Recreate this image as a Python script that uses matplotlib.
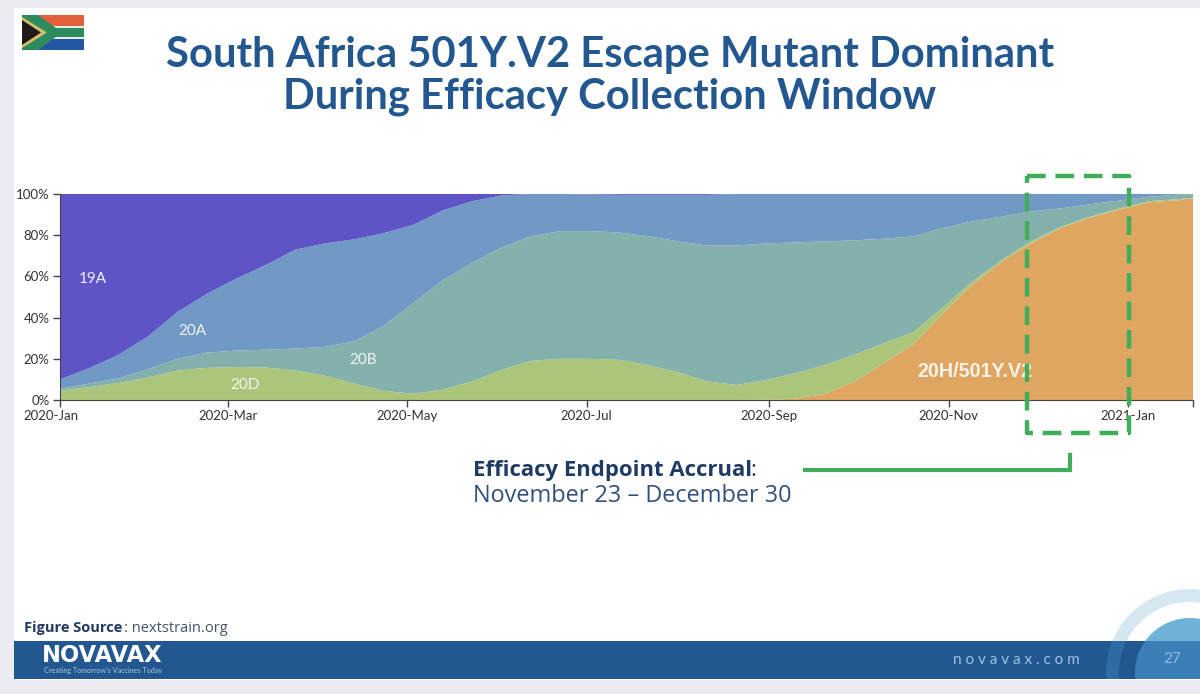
#!/bin/python3
import numpy as np
import matplotlib
matplotlib.use('agg')
import matplotlib.pyplot as plt
import matplotlib.dates as mdates
from matplotlib.patches import Rectangle, Circle, Polygon
from matplotlib.transforms import ScaledTranslation

# sampling dates, 10 days apart, last one is the end of the axis
dates = np.arange(np.datetime64('2020-01-04'), np.datetime64('2021-01-19'), 10).tolist()
dates.append(np.datetime64('2021-01-23'))

# clade shares in percent
share_20h = [0] * 24 + [0.1, 0.6, 3, 9, 18, 27, 42, 56, 67, 76, 83.5, 88.7, 92.4, 96, 97, 98]
share_20d = [4.5, 6.3, 8.3, 11, 14.3, 15.6, 16, 15.8, 14.3, 11.8, 8, 4.5, 3, 5, 9, 14.5, 19, 20, 20, 19.5,
             17, 13.5, 9, 7.3, 9.6, 12.4, 14, 13, 9.6, 6, 3, 1.5, 1, 1, 0.5, 0.3, 0.6, 0.5, 0.5, 0.2]
share_20b = [1, 1.7, 2.2, 4, 5.7, 7.4, 8, 8.6, 10.7, 14, 20.5, 31.5, 44, 53, 57.5, 59.5, 60.5, 62, 62, 61.8,
             62.5, 63.5, 66, 67.7, 66.3, 63.5, 60, 55.5, 50.7, 46.4, 38.5, 29.2, 21, 14.6, 9, 6, 3.8, 2.2, 2.2, 1.8]
share_20a = [4.5, 7.5, 11.5, 16, 22.8, 28.6, 35, 41.2, 48, 50.2, 49.5, 45, 38, 34, 30, 25.3, 20.5, 18, 17.8, 18.3,
             20.1, 22.6, 24.6, 25, 24, 23.5, 23, 22.5, 21.7, 20.6, 16.5, 13.3, 11, 8.4, 7, 5, 3.2, 1.3, 0.3, 0]
share_19a = [90, 84.5, 78, 69, 57.2, 48.4, 41, 34.4, 27, 24, 22, 19, 15, 8, 3.5, 0.7, 0, 0, 0.2, 0.4,
             0.4, 0.4, 0.4, 0, 0, 0, 0, 0, 0, 0, 0, 0, 0, 0, 0, 0, 0, 0, 0, 0]
colors = ['#DFA661', '#ABC67A', '#85B1AD', '#7099C6', '#5E54C5']

# the last tick closes the axis and has no label
tick_dates = ['2020-01-04', '2020-03-01', '2020-05-01', '2020-07-01', '2020-09-01', '2020-11-01', '2021-01-01',
              '2021-01-23']
tick_labels = ['2020-Jan', '2020-Mar', '2020-May', '2020-Jul', '2020-Sep', '2020-Nov', '2021-Jan', '']
pct_ticks = [0, 20, 40, 60, 80, 100]

# clade name, date, percent
clade_labels = [('19A', '2020-01-15', 58.5), ('20A', '2020-02-18', 33.5), ('20B', '2020-04-16', 19.5),
                ('20D', '2020-03-07', 7.5)]

W, H = 1200, 694
NAVY = '#23578F'
GREEN = '#41AD5B'
plt.rcParams['font.family'] = ['Lato', 'DejaVu Sans']
SLIDE_FONT = ['Open Sans', 'DejaVu Sans']

fig = plt.figure(figsize=(W / 100, H / 100), dpi=100, facecolor='#EBEBF1')

# whole-slide layer in pixel coordinates
bg = fig.add_axes([0, 0, 1, 1], zorder=0)
bg.set_xlim(0, W)
bg.set_ylim(H, 0)
bg.axis('off')
bg.add_patch(Rectangle((14, 8), W - 14, 672, fc='white', ec='none'))

# ring in the corner, clipped to the slide and to the band
slide_part = Rectangle((14, 8), W - 14, 633, transform=bg.transData)
band_part = Rectangle((14, 641), W - 14, 38, transform=bg.transData)
bg.add_patch(Rectangle((14, 641), W - 14, 38, fc=NAVY, ec='none', zorder=1))
for radius, upper, lower in [(84, '#D5E8F2', '#2E6AA3'), (71, 'white', NAVY), (55, '#6FB4D8', '#3A7FB8')]:
    c1 = Circle((1190, 673), radius, fc=upper, ec='none', zorder=2)
    bg.add_patch(c1)
    c1.set_clip_path(slide_part)
    c2 = Circle((1190, 673), radius, fc=lower, ec='none', zorder=2)
    bg.add_patch(c2)
    c2.set_clip_path(band_part)

# flag
bg.add_patch(Rectangle((22, 15), 62, 12, fc='#E2603A', ec='none', zorder=2))
bg.add_patch(Rectangle((22, 38), 62, 12, fc='#2456A4', ec='none', zorder=2))
bg.add_patch(Rectangle((22, 26), 62, 13, fc='#E8EFE8', ec='none', zorder=2))
bg.add_patch(Polygon([(22, 15), (38, 15), (56, 28), (84, 28), (84, 37), (56, 37), (38, 50), (22, 50)],
                     fc='#2E8B5E', ec='none', zorder=3))
bg.add_patch(Polygon([(22, 17), (47, 32.5), (22, 48)], fc='#D8BE6A', ec='none', zorder=4))
bg.add_patch(Polygon([(22, 20), (41, 32.5), (22, 45)], fc='#1E1A1C', ec='none', zorder=5))

# slide texts
for line, y in [('South Africa 501Y.V2 Escape Mutant Dominant', 55), ('During Efficacy Collection Window', 97)]:
    bg.text(610, y, line, color=NAVY, fontsize=30.1, fontweight='bold', ha='center', va='center')
bg.text(473, 470, 'Efficacy Endpoint Accrual', color='#1F3A63', fontsize=15.9, fontweight='bold', va='center',
        family=SLIDE_FONT)
bg.text(750, 470, ':', color='#1F3A63', fontsize=15.9, va='center', family=SLIDE_FONT)
bg.text(473, 496, 'November 23 \u2013 December 30', color='#33507A', fontsize=16.9, va='center', family=SLIDE_FONT)
bg.text(24, 628, 'Figure Source', color='#1F3A63', fontsize=10.5, fontweight='bold', va='center', family=SLIDE_FONT)
bg.text(124, 628, ': nextstrain.org', color='#44546A', fontsize=10.5, va='center', family=SLIDE_FONT)
bg.text(42, 655, 'NOVAVAX', color='white', fontsize=16.3, fontweight='bold', va='center', zorder=3,
        family=['DejaVu Sans'])
bg.text(44, 671, "Creating Tomorrow's Vaccines Today", color='#A9C6E3', fontsize=5.2, va='center', zorder=3)
bg.text(953, 660, 'n o v a v a x . c o m', color='#9CC3E6', fontsize=11, va='center', zorder=3)
bg.text(1172, 659, '27', color='#8CBDE3', fontsize=11, ha='center', va='center', zorder=3)

# the chart
ax = fig.add_axes([60 / W, 1 - 400 / H, (1193 - 60) / W, (400 - 194) / H], zorder=1)
ax.patch.set_alpha(0)
ax.stackplot(dates, share_20h, share_20d, share_20b, share_20a, share_19a, colors=colors, linewidth=0)
ax.set_xlim(np.datetime64('2020-01-04'), np.datetime64('2021-01-23'))
ax.set_ylim(0, 100)
ax.set_yticks(pct_ticks)
ax.set_yticklabels(['{}%'.format(p) for p in pct_ticks], fontsize=9.5, color='#333333')
ax.set_xticks([mdates.date2num(np.datetime64(d)) for d in tick_dates])
ax.set_xticklabels(tick_labels, fontsize=9.5, color='#333333')
ax.tick_params(axis='both', length=5, width=1, color='#444444', pad=2.5)
for side in ['top', 'right']:
    ax.spines[side].set_visible(False)
for side in ['left', 'bottom']:
    ax.spines[side].set_color('#444444')

# first date label sits left of its tick
first = ax.get_xticklabels()[0]
first.set_transform(first.get_transform() + ScaledTranslation(-9 / 100, 0, fig.dpi_scale_trans))

for name, day, pct in clade_labels:
    ax.text(np.datetime64(day), pct, name, color='#F2F4F4', fontsize=11, ha='center', va='center')
ax.text(np.datetime64('2020-11-10'), 14, '20H/501Y.V2', color='#F7F3EA', fontsize=14.2, fontweight='bold',
        family=['Liberation Sans'], ha='center', va='center')

# annotation layer on top of the chart
top = fig.add_axes([0, 0, 1, 1], zorder=2)
top.set_xlim(0, W)
top.set_ylim(H, 0)
top.axis('off')
top.plot([1027, 1129, 1129, 1027, 1027], [176, 176, 433, 433, 176], color=GREEN, lw=3.2,
         dashes=(4.2, 2.2), solid_capstyle='butt')
top.plot([805, 1070, 1070], [470, 470, 455], color=GREEN, lw=3, solid_joinstyle='miter')

plt.savefig('out.png', dpi=100, facecolor=fig.get_facecolor())
